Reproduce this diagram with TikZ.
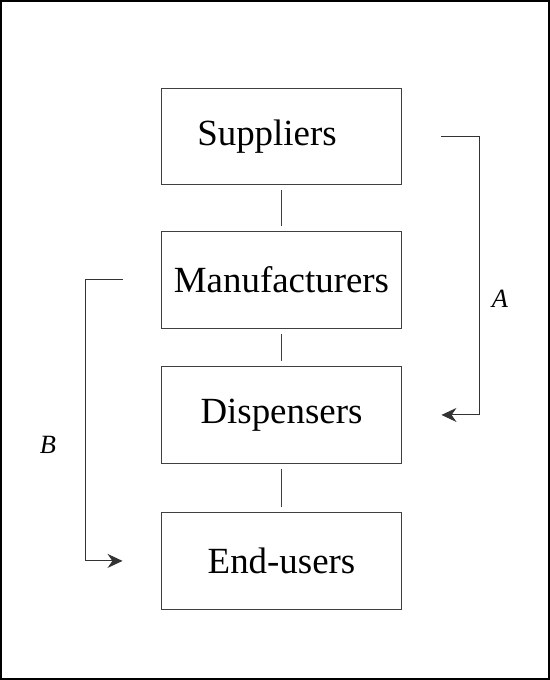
\documentclass[tikz,border=0pt]{standalone}
\usepackage{fontspec}
\setmainfont{Liberation Serif}
\usetikzlibrary{shapes,arrows.meta,positioning}

\begin{document}
\begin{tikzpicture}[x=0.02cm, y=-0.02cm, node distance = 2.87cm, auto]
	\tikzstyle{block} = [rectangle, draw=black!75, line width=0.02cm, text centered,
	minimum width=4.82cm, minimum height=1.94cm, inner sep=0pt, font=\fontsize{21}{25}\selectfont]
	\tikzstyle{line} = [draw, black!75, line width=0.02cm, shorten <=0.1cm, shorten >=0.1cm]
	\tikzstyle{loop} = [draw, black!80, line width=0.02cm, -{Stealth[length=0.3cm, width=0.28cm]}]
	\tikzstyle{tag} = [font=\fontsize{15}{18}\selectfont\itshape]
	% Frame
	\useasboundingbox (0,0) rectangle (550,680);
	\draw [line width=0.04cm] (1,1) rectangle (549,679);
	% Place nodes
	\node [block] (suppliers) at (281.5,136.5) {Suppliers\hspace*{0.58cm}};
	\node [block, below of=suppliers] (manufacturers) {Manufacturers};
	\node [block, below of=manufacturers, node distance=2.7cm] (dispensers) {Dispensers};
	\node [block, below of=dispensers, node distance=2.92cm] (endusers) {End-users};
	\node [tag] (labelA) at (500,299) {A};
	\node [tag] (labelB) at (48,445) {B};
	% Draw edges
	\path [line] (suppliers) -- (manufacturers);
	\path [line] (manufacturers) -- (dispensers);
	\path [line] (dispensers) -- (endusers);
	\path [loop, shorten <=0.78cm, shorten >=0.78cm] (suppliers.east) -- ++(1.54cm,0) |- (dispensers.east);
	\path [loop, shorten <=0.76cm, shorten >=0.76cm] (manufacturers.west) -- ++(-1.5cm,0) |- (endusers.west);
\end{tikzpicture}
\end{document}
